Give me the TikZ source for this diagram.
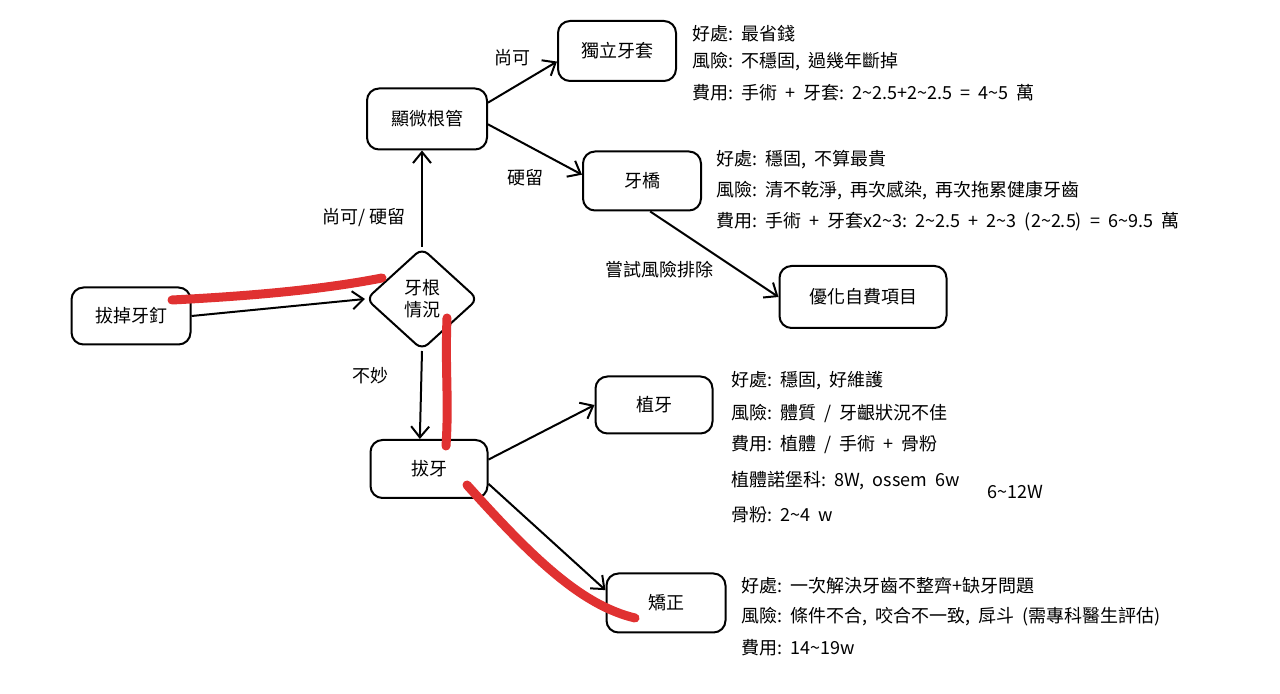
\documentclass[tikz,border=0pt]{standalone}
\usepackage{fontspec}
\setmainfont{Noto Sans CJK TC}
\usetikzlibrary{shapes.geometric,arrows.meta}
\newcommand\mytilde{\textasciitilde}
\newcommand\gapsp{\hspace{0.45em}}
\definecolor{hl}{HTML}{E03131}
\begin{document}
\begin{tikzpicture}[x=0.5pt,y=-0.5pt,
  txt/.style={font=\fontsize{9}{11}\selectfont},
  box/.style={txt,draw,rounded corners=6pt,line width=1pt,inner sep=0pt,minimum width=59pt,minimum height=29.5pt},
  dia/.style={txt,draw,diamond,rounded corners=4pt,line width=1pt,inner sep=0pt,minimum width=56pt,minimum height=51pt,align=center},
  arr/.style={line width=1pt,-{Straight Barb[length=5.5pt,width=9pt]}},
  lbl/.style={txt,inner sep=0pt},
  info/.style={txt,anchor=west,inner sep=0pt},
  hlstroke/.style={draw=hl,line width=4.5pt,line cap=round}
]
\useasboundingbox (0,0) rectangle (1280,694);
\fill[white] (0,0) rectangle (1280,694);

% nodes
\node[box,minimum width=59.5pt,minimum height=28.5pt] (start) at (131,316) {拔掉牙釘};
\node[dia] (d) at (422,299) {牙根\\情況};
\node[box,minimum width=60pt,minimum height=30.5pt] (rc) at (427,119) {顯微根管};
\node[box,minimum width=59pt,minimum height=30pt] (crown) at (617,51) {獨立牙套};
\node[box,minimum width=59pt,minimum height=29.5pt] (bridge) at (642,181) {牙橋};
\node[box,minimum width=83.5pt,minimum height=31pt] (opt) at (863,297) {優化自費項目};
\node[box,minimum width=58.5pt,minimum height=29pt] (ext) at (429,469) {拔牙};
\node[box,minimum width=58.5pt,minimum height=28.5pt] (imp) at (654,405) {植牙};
\node[box,minimum width=59.5pt,minimum height=29.5pt] (orth) at (666,603) {矯正};

% connectors
\draw[arr] (start.east) -- (d.west);
\draw[arr] (d.north) -- (rc.south -| d.north);
\draw[arr] (rc.15) -- (crown.190);
\draw[arr] (rc.355) -- (bridge.174);
\draw[arr] (bridge.285) -- (opt.west);
\draw[arr] (d.south) -- (ext.107);
\draw[arr] (ext.9) -- (imp.west);
\draw[arr] (ext.346) -- (orth.168);

% connector labels
\node[lbl] (l1) at (364,218) {尚可/ 硬留};
\node[lbl] (l2) at (512,58) {尚可};
\node[lbl] (l3) at (525,178) {硬留};
\node[lbl] (l4) at (659,270) {嘗試風險排除};
\node[lbl] (l5) at (370,376) {不妙};

% info texts
\node[info] (a1) at (692,34) {好處:\gapsp 最省錢};
\node[info] (a2) at (692,62) {風險:\gapsp 不穩固,\gapsp 過幾年斷掉};
\node[info] (a3) at (692,93) {費用:\gapsp 手術\gapsp +\gapsp 牙套:\gapsp 2\mytilde 2.5+2\mytilde 2.5\gapsp =\gapsp 4\mytilde 5\gapsp 萬};

\node[info] (b1) at (716,160) {好處:\gapsp 穩固,\gapsp 不算最貴};
\node[info] (b2) at (716,191) {風險:\gapsp 清不乾淨,\gapsp 再次感染,\gapsp 再次拖累健康牙齒};
\node[info] (b3) at (716,222) {費用:\gapsp 手術\gapsp +\gapsp 牙套x2\mytilde 3:\gapsp 2\mytilde 2.5\gapsp +\gapsp 2\mytilde 3\gapsp (2\mytilde 2.5)\gapsp =\gapsp 6\mytilde 9.5\gapsp 萬};

\node[info] (c1) at (731,381) {好處:\gapsp 穩固,\gapsp 好維護};
\node[info] (c2) at (731,413) {風險:\gapsp 體質\gapsp /\gapsp 牙齦狀況不佳};
\node[info] (c3) at (731,445) {費用:\gapsp 植體\gapsp /\gapsp 手術\gapsp +\gapsp 骨粉};
\node[info] (c4) at (731,481) {植體諾堡科:\gapsp 8W,\gapsp ossem\gapsp 6w};
\node[info] (c5) at (731,515) {骨粉:\gapsp 2\mytilde 4\gapsp w};
\node[info] (c6) at (987,492) {6\mytilde 12W};

\node[info] (e1) at (741,586) {好處:\gapsp 一次解決牙齒不整齊+缺牙問題};
\node[info] (e2) at (741,617) {風險:\gapsp 條件不合,\gapsp 咬合不一致,\gapsp 戽斗\gapsp (需專科醫生評估)};
\node[info] (e3) at (741,648) {費用:\gapsp 14\mytilde 19w};

% red highlight strokes
\draw[hlstroke] (172,300) .. controls (250,296) and (320,290) .. (382,278);
\draw[hlstroke] (447,318) .. controls (445,370) and (449,400) .. (446,446);
\draw[hlstroke] (467,485) .. controls (530,555) and (580,605) .. (635,618);
\end{tikzpicture}
\end{document}
